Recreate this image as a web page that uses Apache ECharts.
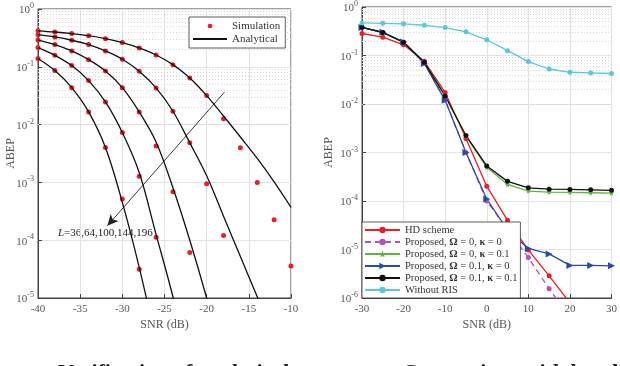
<!DOCTYPE html>
<html>
<head>
<meta charset="utf-8">
<script src="https://cdn.jsdelivr.net/npm/echarts@6/dist/echarts.min.js"></script>
<style>
  html, body { margin: 0; padding: 0; background: #fff; }
  #chart { width: 620px; height: 366px; }
</style>
</head>
<body>
<div id="chart"></div>
<script>
// left panel: ABEP vs SNR for L = 36, 64, 100, 144, 196
var snrLeft = [-40, -38, -36, -34, -32, -30, -28, -26, -24, -22, -20, -18, -16, -14, -12, -10]
var simL36 = [0.42, 0.40, 0.375, 0.346, 0.307, 0.262, 0.212, 0.160, 0.109, 0.064, 0.0318, 0.0126, 0.00396, 0.000995, 0.000225, 0.0000357]
var simL64 = [0.36, 0.328, 0.288, 0.242, 0.188, 0.135, 0.0837, 0.0431, 0.0170, 0.00483, 0.000945, 0.000121]
var simL100 = [0.29, 0.242, 0.188, 0.133, 0.0848, 0.0436, 0.0166, 0.00428, 0.000687, 0.0000614]
var simL144 = [0.215, 0.158, 0.105, 0.0577, 0.0247, 0.00728, 0.00128, 0.000113]
var simL196 = [0.139, 0.0859, 0.0436, 0.0166, 0.00401, 0.000514, 0.0000313]
var anaL36 = [0.42, 0.40, 0.375, 0.346, 0.307, 0.262, 0.212, 0.160, 0.109, 0.064, 0.0318, 0.0141, 0.0061, 0.0026, 0.00102, 0.00037]
var anaL64 = [0.36, 0.328, 0.288, 0.242, 0.188, 0.135, 0.0837, 0.0431, 0.0170, 0.00483, 0.0013, 0.00026, 0.000052, 0.0000105, 0.0000021]
var anaL100 = [0.29, 0.242, 0.188, 0.133, 0.0848, 0.0436, 0.0166, 0.0050, 0.00081, 0.0001, 0.00001, 0.0000008]
var anaL144 = [0.215, 0.158, 0.105, 0.0577, 0.0247, 0.00728, 0.00148, 0.000126, 0.0000105, 0.0000006]
var anaL196 = [0.139, 0.0859, 0.0436, 0.0166, 0.00401, 0.00045, 0.000034, 0.0000018]

// right panel: comparison with baselines
var snrRight = [-30, -25, -20, -15, -10, -5, 0, 5, 10, 15, 20, 25, 30]
var hdScheme = [0.284, 0.239, 0.166, 0.0759, 0.0173, 0.00194, 0.000202, 0.00004, 0.0000098, 0.00000286, 0.0000008]
var propW0K0 = [0.38, 0.30, 0.19, 0.070, 0.012, 0.00100, 0.000100, 0.000026, 0.0000068, 0.00000155, 0.0000004]
var propW0K01 = [0.38, 0.30, 0.19, 0.073, 0.0150, 0.00217, 0.000495, 0.000219, 0.00016, 0.000152, 0.00015, 0.000148, 0.000145]
var propW01K0 = [0.38, 0.30, 0.19, 0.068, 0.0119, 0.00100, 0.00011, 0.000025, 0.0000105, 0.0000081, 0.0000047, 0.0000047, 0.0000046]
var propW01K01 = [0.382, 0.298, 0.186, 0.0723, 0.0146, 0.00224, 0.000529, 0.000254, 0.000187, 0.000175, 0.000173, 0.00017, 0.000166]
var withoutRis = [0.47, 0.461, 0.449, 0.42, 0.377, 0.308, 0.211, 0.126, 0.0748, 0.0527, 0.0451, 0.0437, 0.0425]

var rightNames = ['HD scheme', 'Proposed, Ω = 0, κ = 0', 'Proposed, Ω = 0, κ = 0.1',
  'Proposed, Ω = 0.1, κ = 0', 'Proposed, Ω = 0.1, κ = 0.1', 'Without RIS']

var FONT = '"Liberation Serif", "DejaVu Serif", serif'

function pairs (xs, ys) {
  var out = []
  for (var i = 0; i < ys.length; i++) out.push([xs[i], ys[i]])
  return out
}

// dotted minor grid at 2..9 x 10^k
function minorLines (lo, hi) {
  var out = []
  for (var k = lo; k < hi; k++) {
    for (var m = 2; m <= 9; m++) out.push({ yAxis: m * Math.pow(10, k) })
  }
  return out
}

function logLabel (v) {
  var e = Math.round(Math.log10(v))
  return '{b|10}{s|' + e + '}'
}

function xAxisOpt (idx, min, max, step) {
  return {
    type: 'value', gridIndex: idx, min: min, max: max, interval: step,
    name: 'SNR (dB)', nameLocation: 'middle', nameGap: 21, nameMoveOverlap: false,
    nameTextStyle: { fontFamily: FONT, fontSize: 12, color: '#555' },
    axisLine: { onZero: false, lineStyle: { color: '#444', width: 1 } },
    axisTick: { inside: true, length: 4, lineStyle: { color: '#444' } },
    axisLabel: { fontFamily: FONT, fontSize: 11, color: '#555', margin: 6 },
    splitLine: { show: true, lineStyle: { color: '#e2e2e2', width: 1 } }
  }
}

function yAxisOpt (idx, min, gap) {
  return {
    type: 'log', logBase: 10, gridIndex: idx, min: min, max: 1, interval: 1,
    name: 'ABEP', nameLocation: 'middle', nameGap: gap, nameMoveOverlap: false,
    nameTextStyle: { fontFamily: FONT, fontSize: 12, color: '#555' },
    axisLine: { onZero: false, lineStyle: { color: '#444', width: 1 } },
    axisTick: { inside: true, length: 4, lineStyle: { color: '#444' } },
    axisLabel: {
      formatter: logLabel, margin: 4,
      rich: {
        b: { fontFamily: FONT, fontSize: 11, color: '#555', lineHeight: 14, verticalAlign: 'bottom' },
        s: { fontFamily: FONT, fontSize: 8, color: '#555', lineHeight: 14, verticalAlign: 'top' }
      }
    },
    splitLine: { show: true, lineStyle: { color: '#e2e2e2', width: 1 } }
  }
}

var series = []
var simSets = [simL36, simL64, simL100, simL144, simL196]
var anaSets = [anaL36, anaL64, anaL100, anaL144, anaL196]

// helper series carrying the minor grid of each panel (kept below legends)
series.push({
  type: 'line', xAxisIndex: 0, yAxisIndex: 0, data: [], silent: true, z: 1,
  markLine: {
    silent: true, symbol: 'none', label: { show: false }, z: 1,
    lineStyle: { color: '#d6d6d6', type: [1, 2], width: 1 },
    data: minorLines(-5, 0)
  }
})
series.push({
  type: 'line', xAxisIndex: 1, yAxisIndex: 1, data: [], silent: true, z: 1,
  markLine: {
    silent: true, symbol: 'none', label: { show: false }, z: 1,
    lineStyle: { color: '#d6d6d6', type: [1, 2], width: 1 },
    data: minorLines(-6, 0)
  }
})

anaSets.forEach(function (arr, i) {
  var s = {
    name: 'Analytical', type: 'line', xAxisIndex: 0, yAxisIndex: 0,
    data: pairs(snrLeft, arr), smooth: 0.35, showSymbol: false, symbol: 'none',
    lineStyle: { color: '#111', width: 1.3 }, itemStyle: { color: '#111' }
  }
  if (i === 0) {
    s.markLine = {
      silent: true, symbol: ['none', 'arrow'], symbolSize: [8, 11], z: 3,
      label: { show: false },
      lineStyle: { color: '#222', width: 0.9, type: 'solid' },
      data: [[{ coord: [-17.9, 0.0363] }, { coord: [-31.77, 0.000178] }]]
    }
  }
  series.push(s)
})
simSets.forEach(function (arr) {
  series.push({
    name: 'Simulation', type: 'scatter', xAxisIndex: 0, yAxisIndex: 0,
    data: pairs(snrLeft, arr), symbol: 'circle', symbolSize: 5,
    itemStyle: { color: '#ee1c25', opacity: 1 }
  })
})

var rightSets = [hdScheme, propW0K0, propW0K01, propW01K0, propW01K01, withoutRis]
var rightColors = ['#ee1c25', '#b84fb4', '#5cb83c', '#2a4aa6', '#111111', '#5cc6dc']
var rightSymbols = ['circle', 'circle', 'path://M0,-10L2.9,-4L9.5,-3.1L4.8,1.6L5.9,8.1L0,5L-5.9,8.1L-4.8,1.6L-9.5,-3.1L-2.9,-4Z', 'triangle', 'circle', 'circle']
rightSets.forEach(function (arr, i) {
  series.push({
    name: rightNames[i], type: 'line', xAxisIndex: 1, yAxisIndex: 1,
    data: pairs(snrRight, arr), symbol: rightSymbols[i],
    symbolSize: i === 3 ? 7 : 5, symbolRotate: i === 3 ? -90 : 0,
    showAllSymbol: true,
    lineStyle: { color: rightColors[i], width: 1.3, type: i === 1 ? [6, 4] : 'solid' },
    itemStyle: { color: rightColors[i] }
  })
})

// legend icon: a dot centred in the icon box
var dotIcon = 'path://M0,0h0.01v0.01h-0.01z M15.5,4.5a2.5,2.5 0 1,0 5,0a2.5,2.5 0 1,0 -5,0z M36,9h0.01v0.01h-0.01z'

var option = {
  animation: false,
  backgroundColor: '#fff',
  textStyle: { fontFamily: FONT },
  grid: [
    { left: 38, top: 9, width: 253, height: 289, show: true, borderColor: '#444', borderWidth: 1, backgroundColor: 'transparent' },
    { left: 362, top: 5, width: 253, height: 293, show: true, borderColor: '#444', borderWidth: 1, backgroundColor: 'transparent' }
  ],
  xAxis: [xAxisOpt(0, -40, -10, 5), xAxisOpt(1, -30, 30, 10)],
  yAxis: [yAxisOpt(0, 1e-5, 21), yAxisOpt(1, 1e-6, 27)],
  legend: [
    {
      data: [
        { name: 'Simulation', icon: dotIcon, itemStyle: { color: '#ee1c25' } },
        { name: 'Analytical', itemStyle: { opacity: 0 } }
      ],
      orient: 'vertical', z: 10,
      left: 189, top: 17, itemWidth: 34, itemHeight: 9, itemGap: 1,
      padding: [3, 5, 3, 3], backgroundColor: '#fff', borderColor: '#333', borderWidth: 0.8,
      textStyle: { fontFamily: FONT, fontSize: 11, lineHeight: 12, color: '#333' }
    },
    {
      data: rightNames, orient: 'vertical', z: 10,
      left: 362, top: 222, itemWidth: 35, itemHeight: 8, itemGap: 0,
      padding: [2, 3, 2, 2], backgroundColor: '#fff', borderColor: '#333', borderWidth: 0.8,
      textStyle: {
        fontFamily: FONT, fontSize: 10.5, lineHeight: 12, color: '#333',
        rich: {
          n: { fontFamily: FONT, fontSize: 10.5, lineHeight: 12, color: '#333' },
          g: { fontFamily: FONT, fontSize: 10.5, lineHeight: 12, color: '#333', fontWeight: 'bold' }
        }
      },
      formatter: function (name) {
        if (name.indexOf('Ω') < 0) return name
        return name.replace(/([^Ωκ]+)|([Ωκ])/g, function (m, plain, greek) {
          return plain ? '{n|' + plain + '}' : '{g|' + greek + '}'
        })
      }
    }
  ],
  graphic: [
    {
      type: 'text', left: 58, top: 228,
      style: {
        text: '{i|L}{n|=36,64,100,144,196}',
        rich: {
          i: { fontFamily: FONT, fontSize: 11, fontStyle: 'italic', fill: '#222' },
          n: { fontFamily: FONT, fontSize: 11, fill: '#222' }
        }
      }
    },
    {
      type: 'text', left: 58, top: 362,
      style: { text: 'Verification of analytical', fontFamily: FONT, fontSize: 22, fontWeight: 'bold', fill: '#222' }
    },
    {
      type: 'text', left: 402, top: 362,
      style: { text: 'Comparison with baseline', fontFamily: FONT, fontSize: 22, fontWeight: 'bold', fill: '#222' }
    }
  ],
  series: series
}

var myChart = echarts.init(document.getElementById('chart'))
myChart.setOption(option)
</script>
</body>
</html>
